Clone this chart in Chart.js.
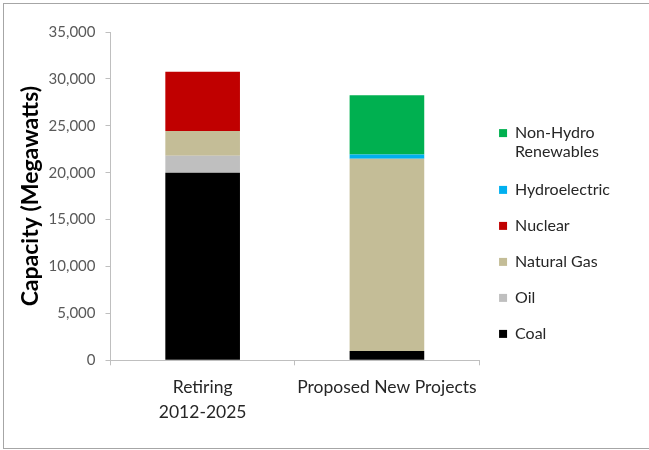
<!DOCTYPE html>
<html>
<head>
<meta charset="utf-8">
<script src="https://cdn.jsdelivr.net/npm/chart.js@4"></script>
<style>
  body { margin: 0; background: #fff; }
  #wrap { position: relative; width: 649px; height: 450px; }
  #frame { position: absolute; left: 3px; top: 3px; width: 700px; height: 444px;
           border: 1px solid #a6a6a6; pointer-events: none; }
</style>
</head>
<body>
<div id="wrap">
  <canvas id="grafico" width="649" height="450"></canvas>
  <div id="frame"></div>
</div>
<script>
const categorias = [['Retiring', '2012-2025'], 'Proposed New Projects'];

const coal = [20000, 1000];
const oil = [1800, 0];
const naturalGas = [2650, 20500];
const nuclear = [6300, 0];
const hydro = [0, 450];
const renewables = [0, 6300];

const yTicks = [0, 5000, 10000, 15000, 20000, 25000, 30000, 35000];

const ctx = document.getElementById('grafico');

Chart.defaults.font.family = "Lato, 'Open Sans', sans-serif";

new Chart(ctx, {
    type: 'bar',
    data: {
        labels: categorias,
        datasets: [
            { label: 'Coal', data: coal, backgroundColor: '#000000' },
            { label: 'Oil', data: oil, backgroundColor: '#bfbfbf' },
            { label: 'Natural Gas', data: naturalGas, backgroundColor: '#c4bd97' },
            { label: 'Nuclear', data: nuclear, backgroundColor: '#c00000' },
            { label: 'Hydroelectric', data: hydro, backgroundColor: '#00b0f0' },
            { label: 'Non-Hydro Renewables', data: renewables, backgroundColor: '#00b050' }
        ]
    },
    options: {
        responsive: false,
        animation: false,
        layout: { padding: { left: 17, right: 29, top: 32, bottom: 15 } },
        datasets: { bar: { categoryPercentage: 1, barPercentage: 0.405 } },
        plugins: {
            tooltip: { enabled: false },
            legend: {
                position: 'right',
                reverse: true,
                labels: {
                    boxWidth: 8,
                    boxHeight: 8,
                    padding: 20,
                    color: '#262626',
                    font: { size: 16, lineHeight: 1.15 },
                    generateLabels: function(chart) {
                        const items = Chart.defaults.plugins.legend.labels.generateLabels(chart);
                        items.forEach(it => {
                            it.lineWidth = 0;
                            if (it.text === 'Non-Hydro Renewables') it.text = ['Non-Hydro', 'Renewables'];
                        });
                        return items;
                    }
                }
            }
        },
        scales: {
            x: {
                stacked: true,
                grid: { drawOnChartArea: false, tickLength: 5, color: '#bfbfbf' },
                border: { color: '#bfbfbf' },
                ticks: { color: '#262626', padding: 10, font: { size: 17.5, lineHeight: 1.42 }, maxRotation: 0 }
            },
            y: {
                stacked: true,
                min: 0,
                max: 35000,
                afterBuildTicks: axis => { axis.ticks = yTicks.map(v => ({ value: v })); },
                grid: { drawOnChartArea: false, tickLength: 5, color: '#bfbfbf' },
                border: { color: '#bfbfbf' },
                ticks: { color: '#595959', padding: 10, font: { size: 15 } },
                title: {
                    display: true,
                    text: 'Capacity (Megawatts)',
                    color: '#000000',
                    font: { size: 23, weight: 'bold' },
                    padding: { top: 0, bottom: -6 }
                }
            }
        }
    }
});
</script>
</body>
</html>
